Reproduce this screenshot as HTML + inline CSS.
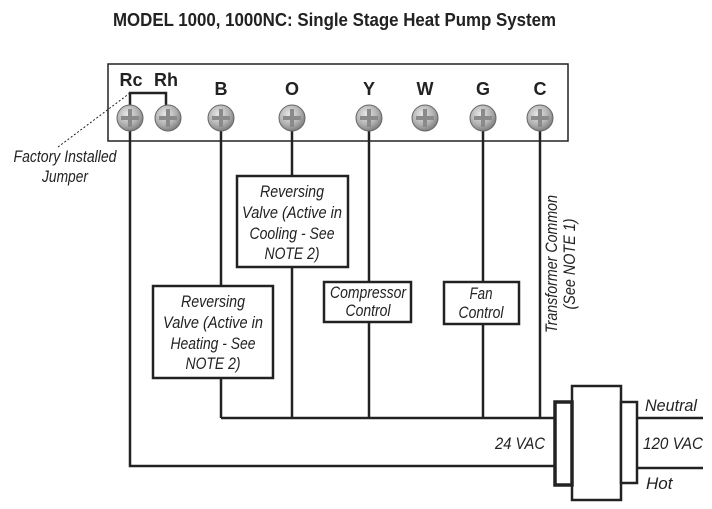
<!DOCTYPE html>
<html><head><style>
html,body{margin:0;padding:0;background:#fff;width:712px;height:509px;overflow:hidden}
svg text{font-family:"Liberation Sans Narrow","Liberation Sans",sans-serif;fill:#222}
.l{font-style:italic;font-size:17px}
.t{font-weight:bold;font-size:18px}
</style></head><body>
<svg width="712" height="509" viewBox="0 0 712 509" xmlns="http://www.w3.org/2000/svg">
<defs>
<radialGradient id="g" cx="40%" cy="35%" r="70%">
<stop offset="0" stop-color="#e8e8e8"/><stop offset="0.6" stop-color="#b0b0b0"/><stop offset="1" stop-color="#777"/>
</radialGradient>
<g id="s"><circle r="13" fill="url(#g)" stroke="#666" stroke-width="1"/>
<rect x="-9" y="-2" width="18" height="4" fill="#8a8a8a"/><rect x="-2" y="-9" width="4" height="18" fill="#8a8a8a"/></g>
</defs>
<text x="113" y="26" class="t" font-size="19" textLength="443" lengthAdjust="spacingAndGlyphs">MODEL 1000, 1000NC:  Single Stage Heat Pump System</text>
<rect x="108" y="64" width="460" height="77" fill="none" stroke="#222" stroke-width="1.5"/>
<g class="t" text-anchor="middle" font-size="17">
<text x="131" y="86">Rc</text><text x="166" y="86">Rh</text><text x="221" y="95">B</text>
<text x="292" y="95">O</text><text x="369" y="95">Y</text><text x="425" y="95">W</text>
<text x="483" y="95">G</text><text x="540" y="95">C</text></g>
<g fill="none" stroke="#222" stroke-width="2.5">
<polyline points="130,118 130,93 166,93 166,118"/>
<polyline points="130,118 130,466 555,466"/>
<line x1="221" y1="118" x2="221" y2="418"/>
<line x1="292" y1="118" x2="292" y2="418"/>
<line x1="369" y1="118" x2="369" y2="418"/>
<line x1="483" y1="118" x2="483" y2="418"/>
<line x1="540" y1="118" x2="540" y2="418"/>
<line x1="221" y1="418" x2="555" y2="418"/>
<line x1="637" y1="418" x2="703" y2="418"/>
<line x1="637" y1="468" x2="703" y2="468"/>
</g>
<line x1="130" y1="93" x2="58" y2="147" stroke="#222" stroke-width="1" stroke-dasharray="2,2"/>
<use href="#s" x="130" y="118"/><use href="#s" x="168" y="118"/><use href="#s" x="221" y="118"/>
<use href="#s" x="292" y="118"/><use href="#s" x="369" y="118"/><use href="#s" x="425" y="118"/>
<use href="#s" x="483" y="118"/><use href="#s" x="540" y="118"/>
<g fill="#fff" stroke="#222" stroke-width="2.5">
<rect x="237" y="176" width="111" height="91"/>
<rect x="153" y="286" width="120" height="92"/>
<rect x="324" y="282" width="87" height="40"/>
<rect x="444" y="282" width="75" height="42"/>
<rect x="572" y="386" width="49" height="114"/>
<rect x="621" y="402" width="16" height="81"/>
<rect x="555" y="402" width="17" height="83" stroke-width="3.5"/>
</g>
<g class="l" text-anchor="middle">
<text x="292" y="197" textLength="64" lengthAdjust="spacingAndGlyphs">Reversing</text>
<text x="292" y="218" textLength="100" lengthAdjust="spacingAndGlyphs">Valve (Active in</text>
<text x="292" y="239" textLength="85" lengthAdjust="spacingAndGlyphs">Cooling - See</text>
<text x="292" y="259" textLength="55" lengthAdjust="spacingAndGlyphs">NOTE 2)</text>
<text x="213" y="307" textLength="64" lengthAdjust="spacingAndGlyphs">Reversing</text>
<text x="213" y="328" textLength="100" lengthAdjust="spacingAndGlyphs">Valve (Active in</text>
<text x="213" y="349" textLength="85" lengthAdjust="spacingAndGlyphs">Heating - See</text>
<text x="213" y="369" textLength="55" lengthAdjust="spacingAndGlyphs">NOTE 2)</text>
<text x="368" y="298" textLength="76" lengthAdjust="spacingAndGlyphs">Compressor</text>
<text x="368" y="316" textLength="45" lengthAdjust="spacingAndGlyphs">Control</text>
<text x="481" y="299" textLength="23" lengthAdjust="spacingAndGlyphs">Fan</text>
<text x="481" y="318" textLength="45" lengthAdjust="spacingAndGlyphs">Control</text>
<text x="65" y="162" textLength="103" lengthAdjust="spacingAndGlyphs">Factory Installed</text>
<text x="65" y="182" textLength="46" lengthAdjust="spacingAndGlyphs">Jumper</text>
<text x="520" y="449" textLength="50" lengthAdjust="spacingAndGlyphs">24 VAC</text>
</g>
<g class="l">
<text x="645" y="411" textLength="52" lengthAdjust="spacingAndGlyphs">Neutral</text>
<text x="643" y="449" textLength="60" lengthAdjust="spacingAndGlyphs">120 VAC</text>
<text x="646" y="489">Hot</text>
</g>
<g class="l" text-anchor="middle" transform="translate(563,264) rotate(-90)">
<text x="0" y="-6" textLength="138" lengthAdjust="spacingAndGlyphs">Transformer Common</text>
<text x="0" y="12" textLength="91" lengthAdjust="spacingAndGlyphs">(See NOTE 1)</text>
</g>
</svg>
</body></html>
